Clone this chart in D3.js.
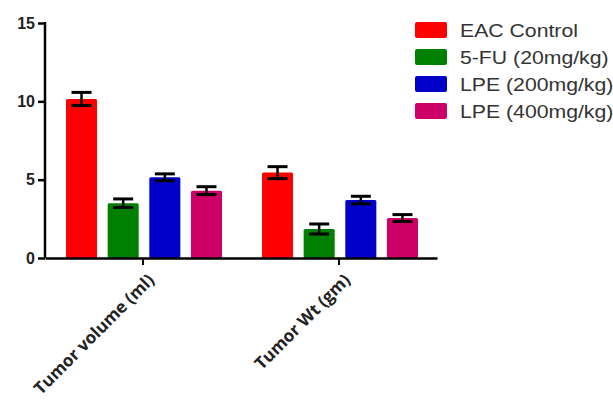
<!DOCTYPE html>
<html><head><meta charset="utf-8">
<script src="https://cdn.jsdelivr.net/npm/d3@7"></script>
<style>body{margin:0;background:#fff}svg{display:block}</style>
</head><body>
<svg id="c" width="613" height="403"></svg>
<script>
const categories = ["Tumor volume (ml)", "Tumor Wt (gm)"];
const seriesNames = ["EAC Control", "5-FU (20mg/kg)", "LPE (200mg/kg)", "LPE (400mg/kg)"];
const seriesColors = ["#ff0000", "#008000", "#0000c8", "#cc0066"];
const meanValues = [[10.15, 3.5, 5.15, 4.3], [5.45, 1.85, 3.7, 2.55]];
const errValues = [[0.42, 0.27, 0.22, 0.25], [0.38, 0.32, 0.24, 0.22]];
const yTicks = [0, 5, 10, 15];

const svg = d3.select("#c");
const x0 = d3.scaleBand().domain(categories).range([45, 437]).paddingInner(0).paddingOuter(0);
const x1 = d3.scaleBand().domain(seriesNames).range([21, 177]).paddingInner(0.255).paddingOuter(0);
const y = d3.scaleLinear().domain([0, 15]).range([258, 23]);

const g = svg.append("g");
categories.forEach((cat, ci) => {
  seriesNames.forEach((s, si) => {
    const v = meanValues[ci][si], e = errValues[ci][si];
    const bx = x0(cat) + x1(s), bw = x1.bandwidth();
    g.append("rect").attr("x", bx).attr("y", y(v)).attr("width", bw).attr("height", y(0) - y(v))
      .attr("fill", seriesColors[si]).attr("rx", 1.5);
    const cx = bx + bw / 2, cw = 10;
    g.append("line").attr("x1", cx).attr("x2", cx).attr("y1", y(v + e)).attr("y2", y(v - e)).attr("stroke", "#000").attr("stroke-width", 2.5);
    [v + e, v - e].forEach(t => g.append("line").attr("x1", cx - cw).attr("x2", cx + cw).attr("y1", y(t)).attr("y2", y(t)).attr("stroke", "#000").attr("stroke-width", 3));
  });
});

// Y axis
const yAxis = svg.append("g").attr("transform", "translate(45,0)")
  .call(d3.axisLeft(y).tickValues(yTicks).tickSize(7).tickPadding(3));
yAxis.select(".domain").attr("stroke", "#000").attr("stroke-width", 2.5).attr("d", "M0,22V258");
yAxis.selectAll(".tick line").attr("stroke", "#000").attr("stroke-width", 2.5);
yAxis.selectAll(".tick text").attr("font-family", "Liberation Sans, Arial, sans-serif").attr("font-weight", "bold").attr("font-size", 16).attr("fill", "#222");

// X axis
const xAxis = svg.append("g").attr("transform", "translate(0,258)")
  .call(d3.axisBottom(x0).tickSize(7).tickSizeOuter(0).tickPadding(8));
xAxis.select(".domain").attr("stroke", "#000").attr("stroke-width", 2.5);
xAxis.selectAll(".tick line").attr("stroke", "#000").attr("stroke-width", 2);
xAxis.selectAll(".tick text").attr("font-family", "Open Sans, sans-serif").attr("font-weight", "bold").attr("font-size", 17).attr("fill", "#222")
  .attr("text-anchor", "end").attr("dy", "0.3em").attr("transform", "translate(-2,9) rotate(-45)");

// Legend
const leg = svg.append("g");
seriesNames.forEach((s, i) => {
  const ly = 22 + i * 27;
  leg.append("rect").attr("x", 415).attr("y", ly).attr("width", 32).attr("height", 16).attr("rx", 2).attr("fill", seriesColors[i]);
  leg.append("text").attr("transform", `translate(460,${ly + 14.5}) scale(1.18,1)`).text(s)
    .attr("font-family", "Liberation Sans, Arial, sans-serif").attr("font-size", 18).attr("fill", "#333");
});
</script>
</body></html>
